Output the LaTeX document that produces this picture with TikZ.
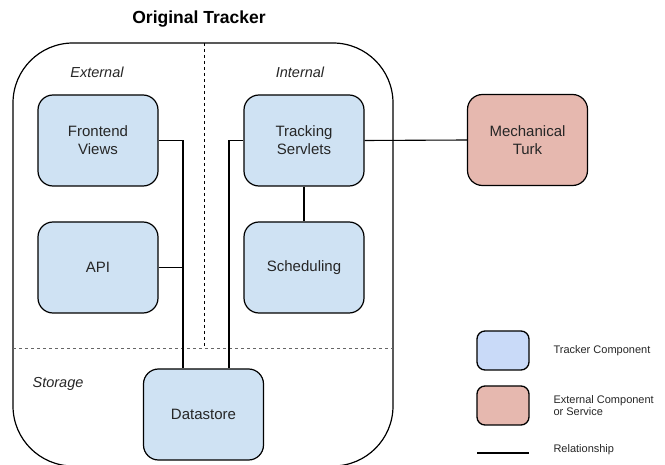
\documentclass[tikz,border=0pt]{standalone}
\usepackage{fontspec}
\setmainfont{Liberation Sans}
\begin{document}
\begin{tikzpicture}[x=1pt,y=-1pt,
  comp/.style={draw=black, line width=1.2pt, rounded corners=15pt, fill=compblue,
    minimum width=120pt, minimum height=91pt, align=center, inner sep=0pt,
    font=\fontsize{15}{18}\selectfont, text=black!85},
  keybox/.style={draw=black, line width=1.3pt, rounded corners=8pt,
    minimum width=52pt, minimum height=39pt, inner sep=0pt},
  rel/.style={draw=black, line width=1.1pt},
  region/.style={font=\itshape\fontsize{14.5}{16}\selectfont, text=black!85},
  keytext/.style={font=\fontsize{11}{12.5}\selectfont, anchor=west, align=left, text=black!85}]
\definecolor{compblue}{HTML}{CFE2F3}
\definecolor{keyblue}{HTML}{C9DAF8}
\definecolor{extred}{HTML}{E6B8AF}
\useasboundingbox (0,0) rectangle (665,465);
\clip (0,0) rectangle (665,465);

% title
\node[font=\bfseries\fontsize{17.5}{20}\selectfont] (title) at (199,19) {Original Tracker};

% tracker outline and region dividers
\draw[line width=1.2pt, rounded corners=60pt] (13,43) rectangle (393,466);
\draw[dashed, line width=0.7pt] (204,43) -- (204,348);
\draw[dashed, line width=0.8pt, black!60] (13,348) -- (393,348);

\node[region] (lext) at (97,72) {External};
\node[region] (lint) at (300,72) {Internal};
\node[region] (lsto) at (58,384) {Storage};

% components
\node[comp] (front) at (98,140.5) {Frontend\\Views};
\node[comp] (api) at (98,267.5) {API};
\node[comp] (track) at (304,140.5) {Tracking\\Servlets};
\node[comp] (sched) at (304,267.5) {Scheduling};
\node[comp] (data) at (203.5,414.5) {Datastore};
\node[comp, fill=extred] (turk) at (527.5,140) {Mechanical\\Turk};

% relationships
\coordinate (fx) at (183,140.5);
\coordinate (tx) at (229,140.5);
\draw[rel] (front.east) -- (fx) -- (fx |- data.north);
\draw[rel] (api.east) -- (fx |- api.east);
\draw[rel] (track.west) -- (tx) -- (tx |- data.north);
\draw[rel] (track.south) -- (sched.north);
\draw[rel] (track.east) -- (turk.west);

% key
\node[keybox, fill=keyblue] (kb) at (503,350.5) {};
\node[keybox, fill=extred] (kr) at (503,405.5) {};
\coordinate (kl1) at (477,453);
\coordinate (kl2) at (529,453);
\draw[draw=black, line width=1.6pt] (kl1) -- (kl2);
\node[keytext] (tb) at (550,350.5) {Tracker Component};
\node[keytext] (tr) at (550,405.5) {External Component\\or Service};
\node[keytext] (tl) at (550,450) {Relationship};
\end{tikzpicture}
\end{document}
